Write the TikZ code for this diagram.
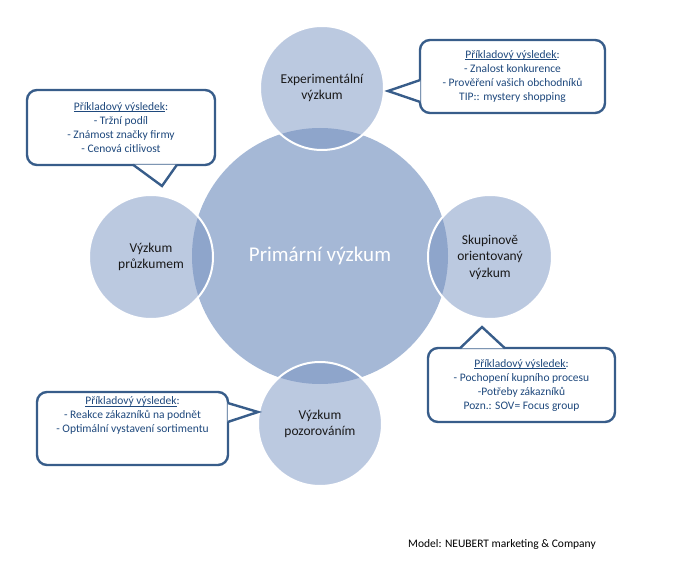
\documentclass[tikz,border=0pt]{standalone}
\usepackage{fontspec}
\setmainfont{Carlito}
\usepackage{xcolor}
\usetikzlibrary{
  positioning,
}
\definecolor{hubfill}{HTML}{A5B8D6}
\definecolor{satfill}{HTML}{7893C2}
\definecolor{boxline}{HTML}{385D8A}
\definecolor{boxtext}{HTML}{1F497D}
\tikzset{
  hub/.style={
    circle,
    fill=hubfill,
    minimum size=256pt,
    inner sep=0pt,
    text=white,
    font=\fontsize{21}{25}\selectfont
  },
  sat/.style={
    circle,
    fill=satfill,
    fill opacity=0.5,
    text opacity=1,
    draw=white,
    line width=2pt,
    minimum size=124pt,
    inner sep=0pt,
    align=center,
    text=black!90,
    font=\fontsize{13.5}{16.5}\selectfont
  },
  bubtext/.style={
    text=boxtext,
    align=center,
    inner sep=0pt,
    font=\fontsize{11.5}{14}\selectfont
  },
  bubble/.style={
    bubtext,
    draw=boxline,
    line width=2.4pt,
    fill=white,
    rounded corners=10pt
  },
  tail/.style={
    draw=boxline,
    line width=2.4pt,
    fill=white,
    line join=miter
  }
}
\newsavebox{\headbox}
\newcommand{\exhead}{\sbox{\headbox}{Příkladový výsledek}%
  \usebox{\headbox}\llap{\rule[-1.4pt]{\wd\headbox}{0.6pt}}:}

\begin{document}
\begin{tikzpicture}[x=1pt, y=-1pt]
  \useasboundingbox (0,0) rectangle (675,580);

  \node[hub] (prim) at (320,256) {Primární výzkum};
  \node[sat] (exp) at (322,88)  {Experimentální\\výzkum};
  \node[sat] (srv) at (151,257) {Výzkum\\průzkumem};
  \node[sat] (grp) at (490,257) {Skupinově\\orientovaný\\výzkum};
  \node[sat] (obs) at (320,424) {Výzkum\\pozorováním};

  %% callouts
  \node[bubble, minimum width=185pt, minimum height=73pt] (expbox) at (512.5,76.5)
    {\exhead\\- Znalost konkurence\\- Prověření vašich obchodníků\\TIP:: mystery shopping};
  \coordinate (exptip) at (388,91);
  \filldraw[tail] ([xshift=1.5pt, yshift=-3.5pt]expbox.west) -- (exptip)
    -- ([xshift=1.5pt, yshift=-25.5pt]expbox.west);

  \node[bubble, minimum width=188pt, minimum height=75pt] (srvbox) at (121,127.5)
    {\exhead\\- Tržní podíl\\- Známost značky firmy\\- Cenová citlivost};
  \coordinate (srvtip) at (162,186);
  \filldraw[tail] ([xshift=12pt, yshift=1.5pt]srvbox.south) -- (srvtip)
    -- ([xshift=56pt, yshift=1.5pt]srvbox.south);

  \node[bubble, minimum width=187pt, minimum height=74pt] (grpbox) at (521.5,385)
    {\exhead\\- Pochopení kupního procesu\\-Potřeby zákazníků\\Pozn.: SOV= Focus group};
  \coordinate (grptip) at (482,327);
  \filldraw[tail] ([xshift=-61.5pt, yshift=-1.5pt]grpbox.north) -- (grptip)
    -- ([xshift=-16.5pt, yshift=-1.5pt]grpbox.north);

  \node[bubble, minimum width=191pt, minimum height=73pt] (obsbox) at (132.5,428.5) {};
  \node[bubtext, below=6pt of obsbox.north] (obstext)
    {\exhead\\- Reakce zákazníků na podnět\\- Optimální vystavení sortimentu};
  \coordinate (obstip) at (258,412);
  \filldraw[tail] ([xshift=-1.5pt, yshift=25.5pt]obsbox.east) -- (obstip)
    -- ([xshift=-1.5pt, yshift=6.5pt]obsbox.east);

  \node[font=\fontsize{11.5}{14}\selectfont] (credit) at (502,544)
    {Model: NEUBERT marketing \& Company};
\end{tikzpicture}
\end{document}
